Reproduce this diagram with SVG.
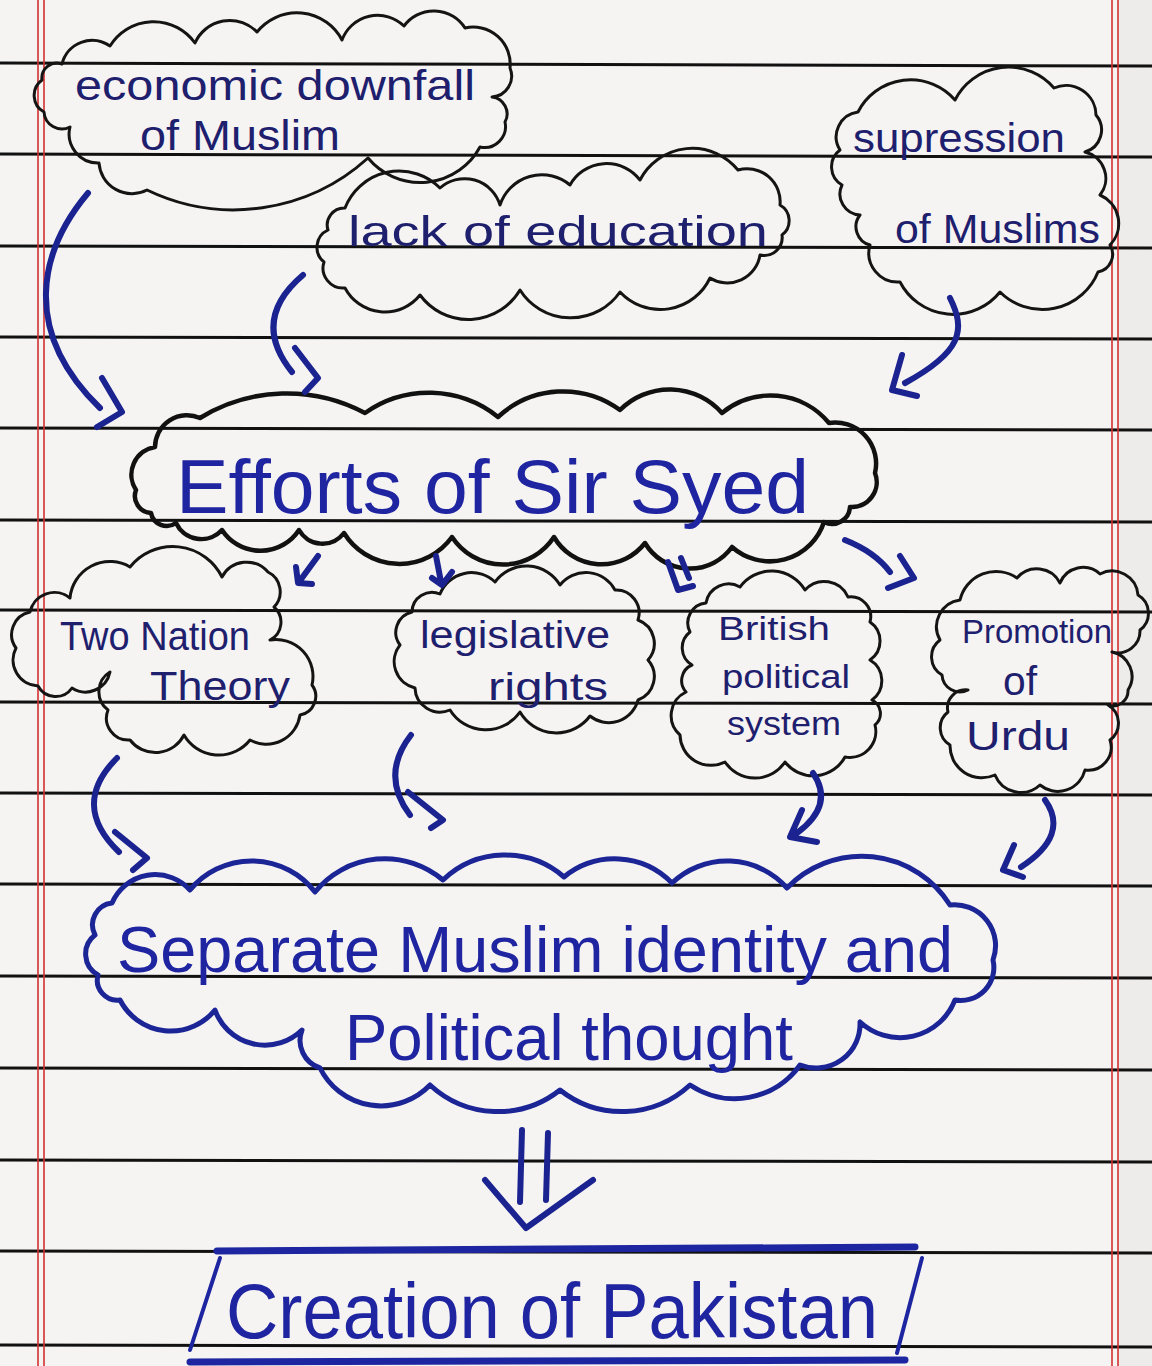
<svg xmlns="http://www.w3.org/2000/svg" width="1152" height="1366" viewBox="0 0 1152 1366">
<style>
.rule{stroke:#111;stroke-width:3;fill:none}
.margin{stroke:#d43030;stroke-width:1.6;fill:none}
.cloud{fill:none;stroke:#141414;stroke-width:3;stroke-linejoin:round}
.cloud-bold{fill:none;stroke:#111;stroke-width:4.5;stroke-linejoin:round}
.cloud-blue{fill:none;stroke:#1c2596;stroke-width:5;stroke-linejoin:round}
.arrow{fill:none;stroke:#1b2390;stroke-width:6;stroke-linecap:round;stroke-linejoin:round}
.box{fill:none;stroke:#1d26a0;stroke-linecap:round}
.txt{font-family:"Liberation Sans","DejaVu Sans",sans-serif;fill:#1e206e}
.txt-blue{font-family:"Liberation Sans","DejaVu Sans",sans-serif;fill:#1f24a0}
</style>
<g id="paper">
<rect x="0" y="0" width="1152" height="1366" fill="#f6f4f3"/>
<rect x="1118" y="0" width="34" height="1366" fill="#eeeceb"/>
<path class="rule" d="M0 63 L1152 66 M0 154 L1152 157 M0 246 L1152 248 M0 337 L1152 339 M0 428 L1152 430 M0 520 L1152 522 M0 610 L1152 612 M0 702 L1152 704 M0 793 L1152 795 M0 884 L1152 886 M0 976 L1152 978 M0 1068 L1152 1070 M0 1160 L1152 1162 M0 1251 L1152 1253 M0 1345 L1152 1347"/>
<path class="margin" d="M38 0 V1366 M44 0 V1366 M1112 0 V1366 M1118 0 V1366"/>
</g>
<g id="node-econ">
<path class="cloud" d="M 42 80 A 15 15 0 0 1 62 64 A 31 31 0 0 1 110 46 A 51 51 0 0 1 195 43 A 38 38 0 0 1 257 32 A 51 51 0 0 1 342 40 A 38 38 0 0 1 404 26 A 37 37 0 0 1 465 28 A 37 37 0 0 1 510 68 A 21 21 0 0 1 492 97 A 17 17 0 0 1 505 122 A 21 21 0 0 1 480 147 A 68 68 0 0 1 368 158 A 200 200 0 0 1 147 190 A 33 33 0 0 1 99 163 A 29 29 0 0 1 70 127 A 18 18 0 0 1 44 112 A 19 19 0 0 1 42 80 Z"/>
<text class="txt" x="75" y="100" font-size="42" textLength="400" lengthAdjust="spacingAndGlyphs">economic downfall</text>
<text class="txt" x="140" y="150" font-size="42" textLength="200" lengthAdjust="spacingAndGlyphs">of Muslim</text>
</g>
<g id="node-lack">
<path class="cloud" d="M 324 262 A 19 19 0 0 1 328 230 A 17 17 0 0 1 345 208 A 58 58 0 0 1 440 188 A 37 37 0 0 1 500 205 A 44 44 0 0 1 570 185 A 42 42 0 0 1 640 180 A 59 59 0 0 1 738 170 A 33 33 0 0 1 780 205 A 18 18 0 0 1 782 235 A 18 18 0 0 1 760 255 A 33 33 0 0 1 710 278 A 55 55 0 0 1 620 292 A 60 60 0 0 1 520 290 A 60 60 0 0 1 420 295 A 45 45 0 0 1 345 288 A 20 20 0 0 1 324 262 Z"/>
<text class="txt" x="348" y="246" font-size="42" textLength="420" lengthAdjust="spacingAndGlyphs">lack of education</text>
</g>
<g id="node-supression">
<path class="cloud" d="M 842 185 A 21 21 0 0 1 840 150 A 25 25 0 0 1 858 112 A 59 59 0 0 1 955 100 A 60 60 0 0 1 1054 88 A 30 30 0 0 1 1096 115 A 23 23 0 0 1 1085 152 A 27 27 0 0 1 1100 195 A 31 31 0 0 1 1110 245 A 18 18 0 0 1 1098 272 A 60 60 0 0 1 1000 292 A 60 60 0 0 1 900 282 A 29 29 0 0 1 870 245 A 19 19 0 0 1 860 215 A 21 21 0 0 1 842 185 Z"/>
<text class="txt" x="853" y="152" font-size="40" textLength="212" lengthAdjust="spacingAndGlyphs">supression</text>
<text class="txt" x="895" y="243" font-size="40" textLength="205" lengthAdjust="spacingAndGlyphs">of Muslims</text>
</g>
<g id="node-efforts">
<path class="cloud-bold" d="M 136 490 A 28 28 0 0 1 155 447 A 32 32 0 0 1 200 418 A 166 166 0 0 1 365 413 A 111 111 0 0 1 498 417 A 96 96 0 0 1 620 410 A 70 70 0 0 1 722 413 A 76 76 0 0 1 829 423 A 41 41 0 0 1 875 473 A 25 25 0 0 1 850 507 A 18 18 0 0 1 824 522 A 57 57 0 0 1 732 547 A 52 52 0 0 1 645 543 A 55 55 0 0 1 554 537 A 61 61 0 0 1 452 537 A 65 65 0 0 1 344 533 A 27 27 0 0 1 299 530 A 46 46 0 0 1 222 530 A 28 28 0 0 1 176 523 A 16 16 0 0 1 151 513 A 17 17 0 0 1 136 490 Z"/>
<text class="txt-blue" x="176" y="513" font-size="76" textLength="633" lengthAdjust="spacingAndGlyphs">Efforts of Sir Syed</text>
</g>
<g id="node-twonation">
<path class="cloud" d="M 16 648 A 23 23 0 0 1 30 612 A 25 25 0 0 1 70 598 A 40 40 0 0 1 130 567 A 55 55 0 0 1 222 577 A 28 28 0 0 1 268 572 A 22 22 0 0 1 274 607 A 20 20 0 0 1 270 640 A 37 37 0 0 1 312 685 A 19 19 0 0 1 300 715 A 34 34 0 0 1 250 740 A 40 40 0 0 1 184 735 A 32 32 0 0 1 130 740 A 22 22 0 0 1 108 710 A 23 23 0 0 1 110 672 A 25 25 0 0 1 72 688 A 20 20 0 0 1 38 686 A 26 26 0 0 1 16 648 Z"/>
<text class="txt" x="60" y="650" font-size="40" textLength="190" lengthAdjust="spacingAndGlyphs">Two Nation</text>
<text class="txt" x="150" y="700" font-size="40" textLength="140" lengthAdjust="spacingAndGlyphs">Theory</text>
</g>
<g id="node-legislative">
<path class="cloud" d="M 400 645 A 21 21 0 0 1 412 612 A 20 20 0 0 1 440 594 A 34 34 0 0 1 495 582 A 39 39 0 0 1 560 585 A 33 33 0 0 1 615 590 A 23 23 0 0 1 638 620 A 25 25 0 0 1 648 660 A 25 25 0 0 1 638 700 A 30 30 0 0 1 590 716 A 42 42 0 0 1 520 712 A 42 42 0 0 1 450 710 A 25 25 0 0 1 415 688 A 27 27 0 0 1 400 645 Z"/>
<text class="txt" x="420" y="648" font-size="38" textLength="190" lengthAdjust="spacingAndGlyphs">legislative</text>
<text class="txt" x="488" y="700" font-size="38" textLength="120" lengthAdjust="spacingAndGlyphs">rights</text>
</g>
<g id="node-british">
<path class="cloud" d="M 690 632 A 20 20 0 0 1 706 603 A 23 23 0 0 1 740 587 A 39 39 0 0 1 805 590 A 26 26 0 0 1 848 597 A 20 20 0 0 1 870 622 A 23 23 0 0 1 870 660 A 24 24 0 0 1 872 700 A 15 15 0 0 1 875 725 A 26 26 0 0 1 845 757 A 36 36 0 0 1 785 762 A 36 36 0 0 1 725 762 A 31 31 0 0 1 680 735 A 26 26 0 0 1 686 692 A 17 17 0 0 1 692 665 A 20 20 0 0 1 690 632 Z"/>
<text class="txt" x="718" y="640" font-size="34" textLength="112" lengthAdjust="spacingAndGlyphs">British</text>
<text class="txt" x="722" y="688" font-size="34" textLength="128" lengthAdjust="spacingAndGlyphs">political</text>
<text class="txt" x="727" y="735" font-size="34" textLength="114" lengthAdjust="spacingAndGlyphs">system</text>
</g>
<g id="node-promotion">
<path class="cloud" d="M 940 640 A 27 27 0 0 1 960 600 A 37 37 0 0 1 1017 578 A 26 26 0 0 1 1060 583 A 25 25 0 0 1 1100 574 A 26 26 0 0 1 1138 595 A 21 21 0 0 1 1140 630 A 22 22 0 0 1 1112 652 A 25 25 0 0 1 1128 690 A 15 15 0 0 1 1108 705 A 21 21 0 0 1 1110 740 A 23 23 0 0 1 1085 770 A 28 28 0 0 1 1040 785 A 28 28 0 0 1 995 775 A 32 32 0 0 1 950 745 A 20 20 0 0 1 948 712 A 18 18 0 0 1 968 690 A 18 18 0 0 1 942 675 A 21 21 0 0 1 940 640 Z"/>
<text class="txt" x="962" y="643" font-size="34" textLength="150" lengthAdjust="spacingAndGlyphs">Promotion</text>
<text class="txt" x="1003" y="695" font-size="40" textLength="34" lengthAdjust="spacingAndGlyphs">of</text>
<text class="txt" x="966" y="750" font-size="40" textLength="104" lengthAdjust="spacingAndGlyphs">Urdu</text>
</g>
<g id="node-separate">
<path class="cloud-blue" d="M 95 935 A 22 22 0 0 1 112 903 A 47 47 0 0 1 190 890 A 80 80 0 0 1 315 892 A 90 90 0 0 1 443 880 A 90 90 0 0 1 564 877 A 80 80 0 0 1 672 883 A 80 80 0 0 1 787 888 A 104 104 0 0 1 950 905 A 41 41 0 0 1 993 960 A 33 33 0 0 1 955 1000 A 59 59 0 0 1 860 1022 A 44 44 0 0 1 800 1065 A 80 80 0 0 1 690 1085 A 100 100 0 0 1 560 1090 A 100 100 0 0 1 430 1085 A 68 68 0 0 1 320 1068 A 29 29 0 0 1 302 1030 A 53 53 0 0 1 215 1010 A 57 57 0 0 1 120 1000 A 20 20 0 0 1 98 975 A 24 24 0 0 1 95 935 Z"/>
<text class="txt-blue" x="117" y="972" font-size="64" textLength="836" lengthAdjust="spacingAndGlyphs">Separate Muslim identity and</text>
<text class="txt-blue" x="345" y="1060" font-size="64" textLength="448" lengthAdjust="spacingAndGlyphs">Political thought</text>
</g>
<g id="node-creation">
<path class="box" stroke-width="7" d="M 217 1251 L 915 1247"/>
<path class="box" stroke-width="4" d="M 220 1258 L 190 1350 M 922 1258 L 897 1353"/>
<path class="box" stroke-width="7" d="M 190 1362 L 905 1360"/>
<text class="txt-blue" x="226" y="1338" font-size="78" textLength="652" lengthAdjust="spacingAndGlyphs">Creation of Pakistan</text>
</g>
<g id="connectors">
<path class="arrow" d="M 88 193 C 40 250, 20 330, 100 408 M 102 378 L 122 412 L 97 427"/>
<path class="arrow" d="M 303 275 Q 250 320 292 372 M 295 348 L 318 378 L 305 392"/>
<path class="arrow" d="M 950 298 C 966 330, 962 352, 905 383 M 902 355 L 892 390 L 917 396"/>
<path class="arrow" stroke-width="5" d="M 318 556 L 299 582 M 296 567 L 298 583 L 312 584"/>
<path class="arrow" stroke-width="4" d="M 436 556 L 441 582 M 432 578 L 442 585 L 452 572"/>
<path class="arrow" stroke-width="4" d="M 668 562 L 678 590 L 693 586 M 681 558 L 689 578"/>
<path class="arrow" stroke-width="5" d="M 845 540 Q 875 552 890 572 M 900 556 L 914 578 L 888 588"/>
<path class="arrow" d="M 117 758 Q 70 805 119 852 M 115 832 L 147 858 L 133 870"/>
<path class="arrow" d="M 411 735 Q 380 775 410 815 M 408 792 L 443 820 L 431 828"/>
<path class="arrow" d="M 813 773 Q 835 805 797 833 M 802 810 L 790 837 L 817 842"/>
<path class="arrow" d="M 1045 800 Q 1070 835 1021 867 M 1014 845 L 1003 870 L 1023 877"/>
<path class="arrow" stroke-width="5" d="M 522 1130 L 520 1202 M 548 1133 L 546 1200 M 485 1180 L 526 1228 L 593 1180"/>
</g>
</svg>
